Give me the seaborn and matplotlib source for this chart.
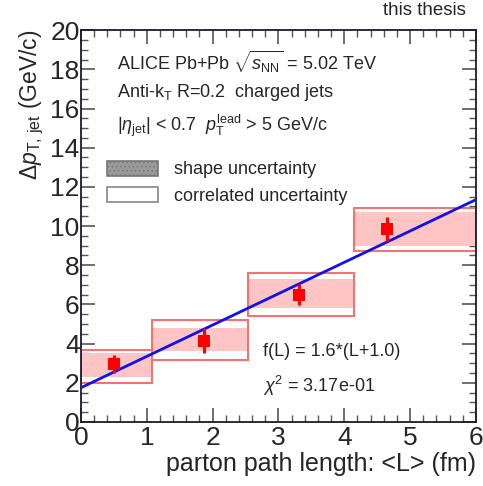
import matplotlib
matplotlib.use("Agg")
import matplotlib.pyplot as plt
import seaborn as sns
import pandas as pd
from matplotlib.patches import Rectangle, Patch
from matplotlib.ticker import MultipleLocator

# ---- data ----
path_length = [0.50, 1.87, 3.31, 4.65]          # <L> (fm)
delta_pt = [2.95, 4.15, 6.50, 9.85]            # Delta p_T,jet (GeV/c)
stat_err = [0.45, 0.65, 0.55, 0.60]
bin_low = [0.00, 1.08, 2.53, 4.15]
bin_high = [1.08, 2.53, 4.15, 6.00]
shape_low = [2.30, 3.60, 5.80, 9.00]
shape_high = [3.50, 4.82, 7.30, 10.70]
corr_low = [2.00, 3.15, 5.43, 8.75]
corr_high = [3.65, 5.23, 7.60, 10.90]
fit_x = [0.0, 6.0]
fit_y = [1.75, 11.35]

x_ticks = [0, 1, 2, 3, 4, 5, 6]
y_ticks = [0, 2, 4, 6, 8, 10, 12, 14, 16, 18, 20]

sns.set_style("ticks")
plt.rcParams["font.family"] = ["Liberation Sans", "DejaVu Sans"]
plt.rcParams["mathtext.fontset"] = "custom"
plt.rcParams["mathtext.rm"] = "Liberation Sans"
plt.rcParams["mathtext.it"] = "Liberation Sans:italic"
plt.rcParams["mathtext.bf"] = "Liberation Sans:bold"
plt.rcParams["mathtext.fallback"] = "cm"
plt.rcParams["hatch.color"] = "#ffffff"
plt.rcParams["hatch.linewidth"] = 0.6

fig = plt.figure(figsize=(4.83, 4.86), dpi=100)
ax = fig.add_axes([0.1677, 0.1317, 0.8178, 0.8063])

df = pd.DataFrame({"L": path_length, "dpt": delta_pt})
fit_df = pd.DataFrame({"L": fit_x, "f": fit_y})

# uncertainty boxes
for lo, hi, sl, sh, cl, ch in zip(bin_low, bin_high, shape_low, shape_high, corr_low, corr_high):
    ax.add_patch(Rectangle((lo, sl), hi - lo, sh - sl, facecolor="#ffc4c4",
                           edgecolor="none", hatch="....", linewidth=0, zorder=1))
    ax.add_patch(Rectangle((lo, cl), hi - lo, ch - cl, facecolor="none",
                           edgecolor="#ff6a6a", linewidth=1.4, zorder=2))

# fit line
sns.lineplot(data=fit_df, x="L", y="f", color="#1010f0", linewidth=2.0, ax=ax, zorder=3)

# data points
ax.errorbar(path_length, delta_pt, yerr=stat_err, fmt="none", ecolor="#ff0000",
            elinewidth=2.2, capsize=0, zorder=4)
sns.scatterplot(data=df, x="L", y="dpt", marker="s", s=75, color="#ff0000",
                edgecolor="#ff0000", linewidth=0, ax=ax, zorder=5)

ax.set_xlim(0, 6)
ax.set_ylim(0, 20)
ax.set_xticks(x_ticks)
ax.set_yticks(y_ticks)
ax.xaxis.set_minor_locator(MultipleLocator(0.2))
ax.yaxis.set_minor_locator(MultipleLocator(0.5))
ax.tick_params(which="both", direction="in", top=True, right=True, color="#555555")
ax.tick_params(which="major", length=10, width=1.2, labelsize=19, pad=3)
ax.tick_params(which="minor", length=5, width=1.0)
ax.tick_params(axis="y", pad=1)
for s in ax.spines.values():
    s.set_linewidth(1.3)
    s.set_color("#1a1a33")

ax.set_xlabel("parton path length: <L> (fm)", fontsize=18, loc="right", labelpad=1)
ax.set_ylabel(r"$\Delta p_{\rm T,\,jet}$ (GeV/c)", fontsize=16.5, loc="top", labelpad=3)

tsize = 13
ax.text(0.091, 0.918, r"ALICE Pb+Pb $\sqrt{s_{\rm NN}}$ = 5.02 TeV", transform=ax.transAxes,
        fontsize=tsize, va="center", ha="left")
ax.text(0.091, 0.842, r"Anti-k$_{\rm T}$ R=0.2  charged jets", transform=ax.transAxes,
        fontsize=tsize, va="center", ha="left")
ax.text(0.091, 0.755, r"|$\eta_{\rm jet}$| < 0.7  $p_{\rm T}^{\rm lead}$ > 5 GeV/c",
        transform=ax.transAxes, fontsize=tsize, va="center", ha="left")
ax.text(0.461, 0.180, "f(L) = 1.6*(L+1.0)", transform=ax.transAxes,
        fontsize=tsize, va="center", ha="left")
ax.text(0.461, 0.093, r"$\chi^{2}$ = 3.17e-01", transform=ax.transAxes,
        fontsize=tsize, va="center", ha="left")

handles = [Patch(facecolor="#9a9a9a", edgecolor="#777777", hatch="....", linewidth=1.2),
           Patch(facecolor="white", edgecolor="#888888", linewidth=1.2)]
ax.legend(handles, ["shape uncertainty", "correlated uncertainty"], loc="upper left",
          bbox_to_anchor=(0.066, 0.667), frameon=False, fontsize=tsize,
          handlelength=2.8, handleheight=0.9, handletextpad=0.9, labelspacing=0.5,
          borderpad=0, borderaxespad=0)

fig.text(0.965, 0.979, "this thesis", fontsize=13.5, ha="right", va="center")

fig.savefig("out.png", dpi=100)
